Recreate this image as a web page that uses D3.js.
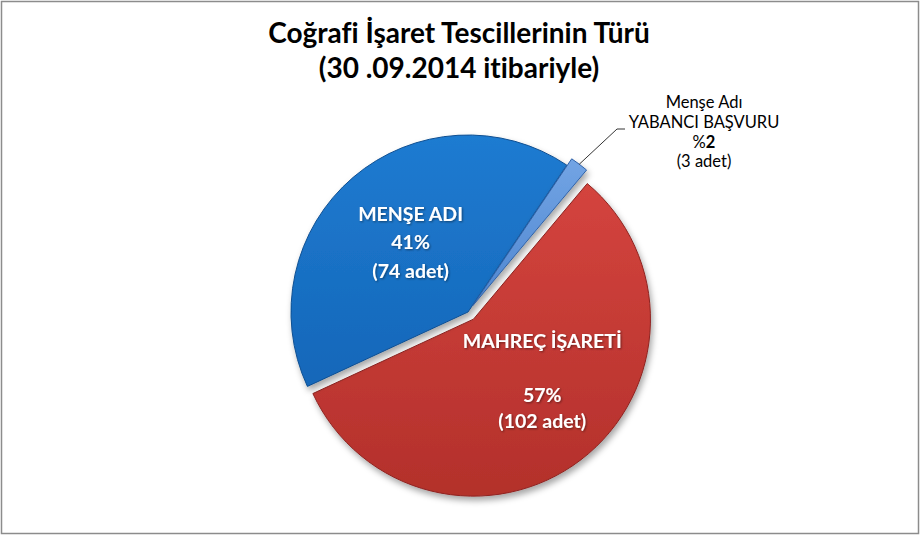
<!DOCTYPE html>
<html><head><meta charset="utf-8">
<script src="https://cdn.jsdelivr.net/npm/d3@7"></script>
<style>body{margin:0;background:#fff}svg{display:block}text{font-variant-ligatures:none;font-feature-settings:"liga" 0,"clig" 0}</style>
</head><body>
<script>
// ---- data ----
const categories = ["MAHREÇ İŞARETİ", "MENŞE ADI", "Menşe Adı YABANCI BAŞVURU"];
const counts = [102, 74, 3];
const percentLabels = ["57%", "41%", "%2"];
const countLabels = ["(102 adet)", "(74 adet)", "(3 adet)"];
const titleLines = ["Coğrafi İşaret Tescillerinin Türü", "(30 .09.2014 itibariyle)"];

// ---- layout / style ----
const W = 920, H = 535;
const cx = 468, cy = 312, R = 177;
const startDeg = 40;
const explode = [9, 0, 8];
const fills = [["#d4443e", "#b3302b"], ["#1f7bd1", "#1467b9"], ["#72a4e4", "#4f86d0"]];
const strokes = ["#8e2420", "#0f4f92", "#2f62a8"];
const FONT = "Lato, 'Open Sans', sans-serif";

const svg = d3.select("body").append("svg").attr("width", W).attr("height", H);
const defs = svg.append("defs");
fills.forEach((f, i) => {
  const g = defs.append("linearGradient").attr("id", "g" + i)
    .attr("x1", 0).attr("y1", 0).attr("x2", 0).attr("y2", 1);
  g.append("stop").attr("offset", "0%").attr("stop-color", f[0]);
  g.append("stop").attr("offset", "100%").attr("stop-color", f[1]);
});
const sh = defs.append("filter").attr("id", "sh").attr("x", "-20%").attr("y", "-20%").attr("width", "140%").attr("height", "140%");
sh.append("feDropShadow").attr("dx", 2).attr("dy", 4).attr("stdDeviation", 3).attr("flood-color", "#000").attr("flood-opacity", 0.35);
const tsh = defs.append("filter").attr("id", "tsh");
tsh.append("feDropShadow").attr("dx", 1).attr("dy", 1).attr("stdDeviation", 0.8).attr("flood-color", "#000").attr("flood-opacity", 0.45);

// frame
svg.append("rect").attr("x", 1.5).attr("y", 1.5).attr("width", W - 3).attr("height", H - 3)
  .attr("fill", "#fff").attr("stroke", "#8c8c8c").attr("stroke-width", 1.5);

// title
svg.append("g").selectAll("text").data(titleLines).join("text")
  .attr("x", 459).attr("y", (d, i) => 43 + i * 35)
  .attr("text-anchor", "middle").attr("font-family", FONT).attr("font-weight", 700)
  .attr("font-size", 28).attr("fill", "#000").text(d => d);

// pie
const data = categories.map((c, i) => ({ name: c, value: counts[i], i }));
const pie = d3.pie().value(d => d.value).sort(null)
  .startAngle(startDeg * Math.PI / 180).endAngle(startDeg * Math.PI / 180 + 2 * Math.PI);
const arcs = pie(data);
const arc = d3.arc().innerRadius(0).outerRadius(R);
const mid = a => (a.startAngle + a.endAngle) / 2;
const offset = a => {
  const m = mid(a), e = explode[a.data.i];
  return [cx + e * Math.sin(m), cy - e * Math.cos(m)];
};

const slices = svg.append("g").selectAll("g").data(arcs).join("g")
  .attr("transform", a => `translate(${offset(a)})`);
slices.append("path").attr("d", arc)
  .attr("fill", a => `url(#g${a.data.i})`)
  .attr("stroke", a => strokes[a.data.i]).attr("stroke-width", 1)
  .attr("filter", "url(#sh)");

// labels inside
const inside = [
  { i: 0, lines: [categories[0], "", percentLabels[0], countLabels[0]], dx: 15, dy: -7.5, lh: 26.7 },
  { i: 1, lines: [categories[1], percentLabels[1], countLabels[1]], dx: 0, dy: -2, lh: 28.5 }
];
inside.forEach(L => {
  const a = arcs[L.i];
  const [ox, oy] = offset(a);
  const c = arc.centroid(a);
  const ax = ox + c[0] + L.dx, ay = oy + c[1] + L.dy;
  const n = L.lines.length;
  svg.append("g").attr("filter", "url(#tsh)").selectAll("text").data(L.lines).join("text")
    .attr("x", ax).attr("y", (d, k) => ay + (k - (n - 1) / 2) * L.lh + 6.5)
    .attr("text-anchor", "middle").attr("font-family", FONT).attr("font-weight", 700)
    .attr("font-size", 19.5).attr("fill", "#fff").text(d => d);
});

// outside label for small slice
const small = arcs[2];
const [sx, sy] = offset(small);
const sm = mid(small);
const p0 = [sx + R * Math.sin(sm), sy - R * Math.cos(sm)];
const lx = 704, ly0 = 108, llh = 19.8;
const outLines = ["Menşe Adı", "YABANCI BAŞVURU", null, countLabels[2]];
const og = svg.append("g");
outLines.forEach((t, k) => {
  const tx = og.append("text").attr("x", lx).attr("y", ly0 + k * llh)
    .attr("text-anchor", "middle").attr("font-family", FONT)
    .attr("font-size", 16.5).attr("fill", "#000");
  if (t === null) {
    tx.append("tspan").text(percentLabels[2].slice(0, 1));
    tx.append("tspan").attr("font-weight", 700).text(percentLabels[2].slice(1));
  } else tx.text(t);
});
svg.append("path")
  .attr("d", d3.line()([p0, [617, 129], [625, 129]]))
  .attr("fill", "none").attr("stroke", "#000").attr("stroke-width", 0.8);
</script>
</body></html>
